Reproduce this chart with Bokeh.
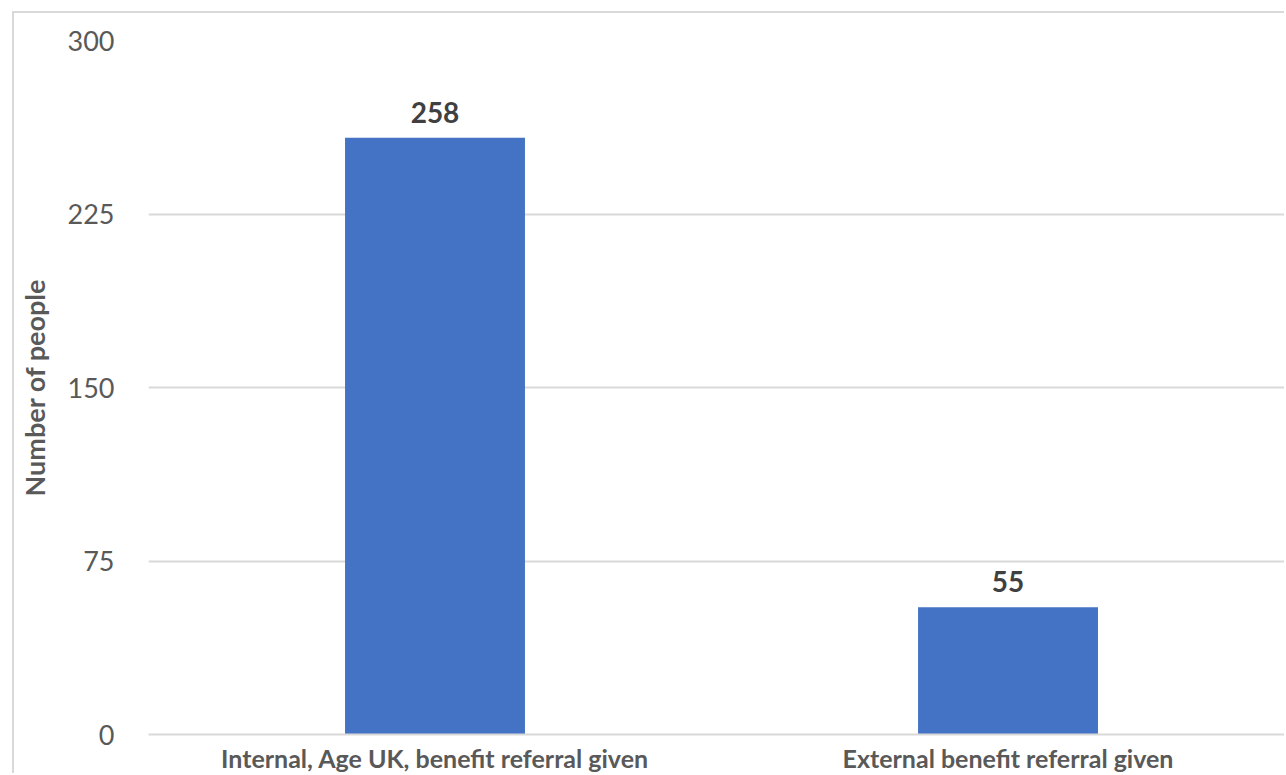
from bokeh.plotting import figure
from bokeh.models import ColumnDataSource, Range1d, FixedTicker, LabelSet
from bokeh.core.properties import value
from bokeh.embed import file_html
from bokeh.resources import INLINE

categories = ["Internal, Age UK, benefit referral given", "External benefit referral given"]
values = [258, 55]
y_ticks = [0, 75, 150, 225, 300]
y_label = "Number of people"

FONT = "Lato"
TEXT = "#595959"
GRID = "#d9d9d9"
BAR = "#4472C4"

xs = [i + 0.5 for i in range(len(categories))]
src = ColumnDataSource(dict(x=xs, top=values, label=[str(v) for v in values]))

p = figure(width=1272, height=762,
           x_range=Range1d(0, 1.986), y_range=Range1d(0, 300),
           output_backend="svg", toolbar_location=None,
           min_border_left=134, min_border_right=0, min_border_top=27, min_border_bottom=0,
           margin=(11, 0, 0, 12),
           styles={"border-left": f"2px solid {GRID}", "border-top": f"2px solid {GRID}"})
p.outline_line_color = None
p.background_fill_color = "white"
p.border_fill_color = "white"

p.vbar(x="x", top="top", width=0.314, source=src, fill_color=BAR, line_color=None)

labels = LabelSet(x="x", y="top", text="label", source=src, text_align="center",
                  text_baseline="alphabetic", y_offset=15,
                  text_font=value(FONT), text_font_style="bold", text_font_size="28px",
                  text_color="#404040")
p.add_layout(labels)

# y axis
p.yaxis.ticker = FixedTicker(ticks=y_ticks)
p.yaxis.axis_line_color = None
p.yaxis.major_tick_line_color = None
p.yaxis.minor_tick_line_color = None
p.yaxis.major_label_text_font = FONT
p.yaxis.major_label_text_font_size = "27px"
p.yaxis.major_label_text_color = TEXT
p.yaxis.major_label_standoff = 28
p.yaxis.axis_label = y_label
p.yaxis.axis_label_text_font = FONT
p.yaxis.axis_label_text_font_style = "bold"
p.yaxis.axis_label_text_font_size = "27px"
p.yaxis.axis_label_text_color = TEXT
p.yaxis.axis_label_standoff = 14

# x axis
p.xaxis.ticker = FixedTicker(ticks=xs)
p.xaxis.major_label_overrides = {x: c for x, c in zip(xs, categories)}
p.xaxis.axis_line_color = GRID
p.xaxis.axis_line_width = 2
p.xaxis.major_tick_line_color = None
p.xaxis.minor_tick_line_color = None
p.xaxis.major_label_text_font = FONT
p.xaxis.major_label_text_font_style = "bold"
p.xaxis.major_label_text_font_size = "25px"
p.xaxis.major_label_text_line_height = 0.9
p.xaxis.major_label_text_color = TEXT
p.xaxis.major_label_standoff = 2

p.xgrid.grid_line_color = None
p.ygrid.grid_line_color = GRID
p.ygrid.grid_line_width = 2

open("out.html", "w").write(file_html(p, INLINE))
